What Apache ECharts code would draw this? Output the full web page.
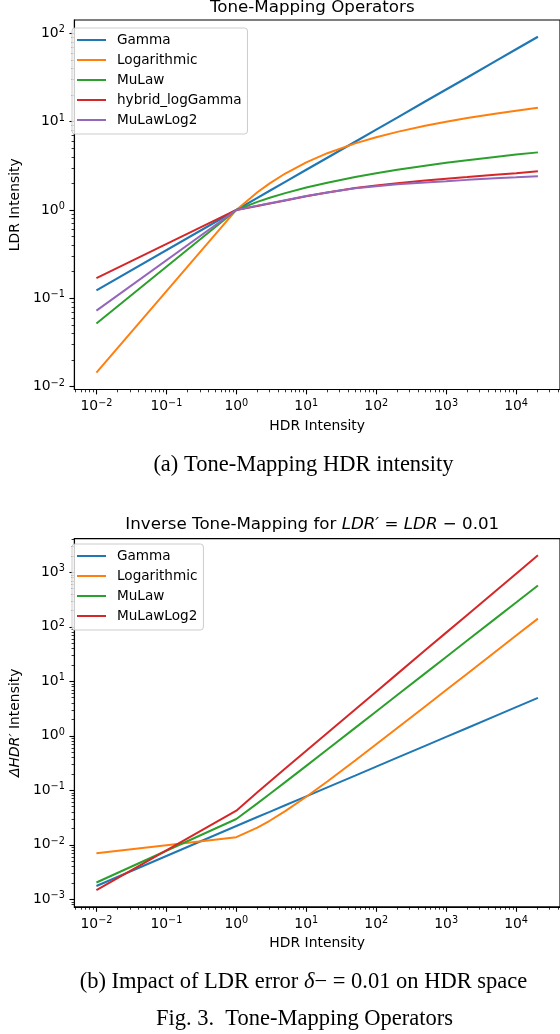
<!DOCTYPE html>
<html><head><meta charset="utf-8">
<script src="https://cdn.jsdelivr.net/npm/echarts@6/dist/echarts.min.js"></script>
<style>html,body{margin:0;padding:0;background:#fff}#c{width:560px;height:1034px}</style>
</head><body><div id="c"></div>
<script>
// ---- data ----
const hdrX = [0.01, 1, 2, 3, 5, 10, 20, 50, 100, 200, 500, 1000, 2000, 5000, 10000, 20500];

// (a) tone-mapped LDR intensity
const tmGamma     = [0.123, 1, 1.37, 1.65, 2.08, 2.85, 3.90, 5.92, 8.11, 11.1, 16.9, 23.1, 31.6, 48.0, 65.8, 91.1];
const tmLog       = [0.0144, 1, 1.585, 2.0, 2.585, 3.46, 4.39, 5.67, 6.66, 7.65, 8.97, 9.97, 10.97, 12.29, 13.29, 14.32];
const tmMuLaw     = [0.052, 1, 1.234, 1.374, 1.551, 1.794, 2.037, 2.36, 2.604, 2.849, 3.172, 3.417, 3.661, 3.985, 4.23, 4.483];
const tmHybrid    = [0.169, 1, 1.11, 1.18, 1.28, 1.43, 1.58, 1.77, 1.89, 2.01, 2.15, 2.26, 2.36, 2.50, 2.61, 2.74];
const tmMuLawLog2 = [0.0726, 1, 1.12, 1.19, 1.29, 1.44, 1.58, 1.76, 1.86, 1.96, 2.05, 2.11, 2.19, 2.28, 2.34, 2.41];

// (b) delta HDR for LDR' = LDR - 0.01
const dGamma      = [0.00175, 0.0221, 0.0323, 0.0402, 0.0531, 0.0775, 0.113, 0.186, 0.272, 0.397, 0.654, 0.954, 1.39, 2.29, 3.35, 4.95];
const dLog        = [0.00698, 0.0138, 0.0207, 0.0276, 0.0414, 0.076, 0.145, 0.352, 0.698, 1.39, 3.46, 6.91, 13.8, 34.5, 69.1, 141.6];
const dMuLaw      = [0.00203, 0.0297, 0.0576, 0.0856, 0.141, 0.281, 0.560, 1.40, 2.80, 5.59, 13.97, 27.9, 55.9, 139.7, 279, 573];
const dMuLawLog2  = [0.00147, 0.0423, 0.0918, 0.143, 0.250, 0.532, 1.13, 3.05, 6.46, 13.7, 37.0, 78.2, 165, 445, 944, 2050];

const topNames = ['Gamma', 'Logarithmic', 'MuLaw', 'hybrid_logGamma', 'MuLawLog2'];
const botNames = ['Gamma', 'Logarithmic', 'MuLaw', 'MuLawLog2'];

// tick label exponents
const xTickExps    = [-2, -1, 0, 1, 2, 3, 4];
const yTopTickExps = [-2, -1, 0, 1, 2];
const yBotTickExps = [-3, -2, -1, 0, 1, 2, 3];

// ---- styling ----
const COL = {blue:'#1f77b4', orange:'#ff7f0e', green:'#2ca02c', red:'#d62728', purple:'#9467bd'};
const topColors = [COL.blue, COL.orange, COL.green, COL.red, COL.purple];
const botColors = [COL.blue, COL.orange, COL.green, COL.red];
const topData = [tmGamma, tmLog, tmMuLaw, tmHybrid, tmMuLawLog2];
const botData = [dGamma, dLog, dMuLaw, dMuLawLog2];
const FONT = 'DejaVu Sans';

// matplotlib-like 5% margins on log extents
function logExtent(arrs) {
  let mn = Infinity, mx = -Infinity;
  arrs.forEach(a => a.forEach(v => { const l = Math.log10(v); if (l < mn) mn = l; if (l > mx) mx = l; }));
  const p = 0.05 * (mx - mn);
  return [mn - p, mx + p];
}
function minorTicks(ext) {
  const out = [];
  for (let n = -6; n <= 6; n++) for (let k = 2; k <= 9; k++) {
    const l = Math.log10(k) + n;
    if (l >= ext[0] && l <= ext[1]) out.push(l);
  }
  return out;
}
const xExt = logExtent([hdrX]);
const yTopExt = logExtent(topData);
const yBotExt = logExtent(botData);

const labelRich = {
  b: {fontFamily: FONT, fontSize: 13.9, lineHeight: 17, color: '#000'},
  s: {fontFamily: FONT, fontSize: 9.7, lineHeight: 10, verticalAlign: 'top', color: '#000'}
};
function fmtPow(v) {
  const e = Math.round(v);
  return '{b|10}{s|' + (e < 0 ? '\u2212' + (-e) : String(e)) + '}';
}

function axesFor(dim, gridIndex, ext, exps, name, nameGap, nameStyle) {
  const pos = dim === 'x' ? 'bottom' : 'left';
  const logAxis = {type: 'log', gridIndex, position: pos, min: Math.pow(10, ext[0]), max: Math.pow(10, ext[1]), show: false, splitLine: {show: false}};
  const major = {
    type: 'value', gridIndex, position: pos, min: ext[0], max: ext[1],
    axisLine: {show: true, onZero: false, lineStyle: {color: '#000', width: 1.1}},
    axisTick: {show: true, customValues: exps, length: 4.9, lineStyle: {color: '#000', width: 1.1}},
    axisLabel: {show: true, customValues: exps, formatter: fmtPow, rich: labelRich, margin: dim === 'x' ? 8.5 : 9.5,
                showMinLabel: true, showMaxLabel: true, hideOverlap: false},
    splitLine: {show: false},
    name, nameLocation: 'middle', nameGap,
    nameTextStyle: Object.assign({fontFamily: FONT, fontSize: 13.9, color: '#000'}, nameStyle || {})
  };
  const minor = {
    type: 'value', gridIndex, position: pos, min: ext[0], max: ext[1],
    axisLine: {show: false, onZero: false},
    axisTick: {show: true, customValues: minorTicks(ext), length: 2.8, lineStyle: {color: '#000', width: 0.8}},
    axisLabel: {show: false},
    splitLine: {show: false}
  };
  return [logAxis, major, minor];
}

const xAxes = axesFor('x', 0, xExt, xTickExps, 'HDR Intensity', 29.5)
  .concat(axesFor('x', 1, xExt, xTickExps, 'HDR Intensity', 29));
const yAxes = axesFor('y', 0, yTopExt, yTopTickExps, 'LDR Intensity', 46.5)
  .concat(axesFor('y', 1, yBotExt, yBotTickExps, '{i|\u0394HDR\u2032}{n| Intensity}', 46.5, {
    rich: {
      i: {fontFamily: FONT, fontSize: 13.9, fontStyle: 'italic', color: '#000'},
      n: {fontFamily: FONT, fontSize: 13.9, color: '#000'}
    }
  }));

const series = [];
topData.forEach((ys, i) => series.push({
  type: 'line', name: topNames[i], xAxisIndex: 0, yAxisIndex: 0,
  data: hdrX.map((x, j) => [x, ys[j]]),
  symbol: 'none', showSymbol: false, silent: true, z: 3 + i,
  lineStyle: {width: i === 0 ? 2.2 : 2, color: topColors[i]}, itemStyle: {color: topColors[i]}
}));
botData.forEach((ys, i) => series.push({
  type: 'line', name: botNames[i], xAxisIndex: 3, yAxisIndex: 3,
  data: hdrX.map((x, j) => [x, ys[j]]),
  symbol: 'none', showSymbol: false, silent: true, z: 3 + i,
  lineStyle: {width: 2, color: botColors[i]}, itemStyle: {color: botColors[i]}
}));

function legendFor(names, colors, top) {
  return {
    orient: 'vertical', left: 72, top, padding: [2, 6, 4, 5], itemGap: 0,
    itemWidth: 29, itemHeight: 2, icon: 'rect', selectedMode: false,
    backgroundColor: 'rgba(255,255,255,0.8)', borderColor: '#cccccc', borderWidth: 1, borderRadius: 3,
    textStyle: {fontFamily: FONT, fontSize: 13.6, color: '#000', lineHeight: 20, padding: [0, 0, 0, 6]},
    data: names.map((n, i) => ({name: n, icon: 'rect', itemStyle: {color: colors[i]}}))
  };
}

const SERIF = 'Liberation Serif';
const capStyle = {fontFamily: SERIF, fontSize: 22.5, fill: '#000', align: 'center', verticalAlign: 'middle'};

const option = {
  animation: false,
  backgroundColor: '#fff',
  grid: [
    {left: 64.5, top: 20, width: 495.5, height: 369.5, show: true, borderColor: '#000', borderWidth: 1.1, backgroundColor: 'transparent'},
    {left: 64.5, top: 538.6, width: 495.5, height: 368.3, show: true, borderColor: '#000', borderWidth: 1.1, backgroundColor: 'transparent'}
  ],
  xAxis: xAxes,
  yAxis: yAxes,
  legend: [legendFor(topNames, topColors, 28), legendFor(botNames, botColors, 544)],
  series,
  graphic: [
    {type: 'text', x: 312.25, y: 7.5, style: {text: 'Tone-Mapping Operators', fontFamily: FONT, fontSize: 16.7, fill: '#000', align: 'center', verticalAlign: 'middle'}},
    {type: 'text', x: 312.25, y: 524.5, style: {
      text: '{n|Inverse Tone-Mapping for }{i|LDR\u2032}{n| = }{i|LDR}{n| \u2212 0.01}',
      align: 'center', verticalAlign: 'middle',
      rich: {
        n: {fontFamily: FONT, fontSize: 16.7, fill: '#000'},
        i: {fontFamily: FONT, fontSize: 16.7, fontStyle: 'italic', fill: '#000'}
      }
    }},
    {type: 'text', x: 303.5, y: 465, style: Object.assign({text: '(a) Tone-Mapping HDR intensity'}, capStyle)},
    {type: 'text', x: 303.5, y: 982, style: Object.assign({}, capStyle, {
      text: '{n|(b) Impact of LDR error }{i|\u03b4}{n|\u2212 = 0.01 on HDR space}',
      rich: {
        n: {fontFamily: SERIF, fontSize: 22.5, fill: '#000'},
        i: {fontFamily: SERIF, fontSize: 22.5, fontStyle: 'italic', fill: '#000'}
      }
    })},
    {type: 'text', x: 304.5, y: 1019, style: Object.assign({text: 'Fig. 3.\u2002Tone-Mapping Operators'}, capStyle)}
  ]
};

const chart = echarts.init(document.getElementById('c'), null, {renderer: 'canvas'});
chart.setOption(option);
</script>
</body></html>
